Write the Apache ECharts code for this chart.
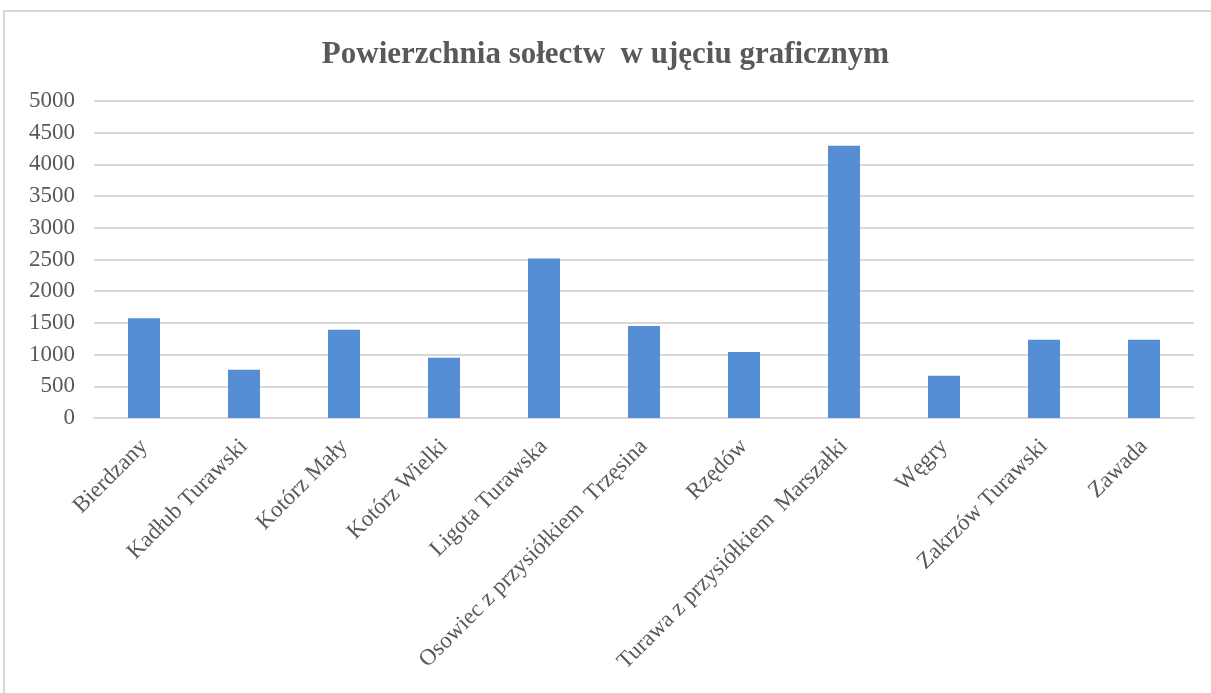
<!DOCTYPE html>
<html>
<head>
<meta charset="utf-8">
<script src="https://cdn.jsdelivr.net/npm/echarts@6/dist/echarts.min.js"></script>
<style>
  html, body { margin: 0; padding: 0; background: #fff; }
  #chart { width: 1211px; height: 693px; }
</style>
</head>
<body>
<div id="chart"></div>
<script>
// dane wykresu
const categories = [
  'Bierdzany', 'Kadłub Turawski', 'Kotórz Mały', 'Kotórz Wielki', 'Ligota Turawska',
  'Osowiec z przysiółkiem  Trzęsina', 'Rzędów', 'Turawa z przysiółkiem  Marszałki',
  'Węgry', 'Zakrzów Turawski', 'Zawada'
];
const areaValues = [1575, 760, 1390, 950, 2515, 1450, 1040, 4295, 665, 1235, 1235];
const yTicks = [0, 500, 1000, 1500, 2000, 2500, 3000, 3500, 4000, 4500, 5000];

const chart = echarts.init(document.getElementById('chart'));
const textColor = '#595959';
const font = 'Liberation Serif';

let option = {
  animation: false,
  title: {
    text: 'Powierzchnia sołectw  w ujęciu graficznym',
    left: 'center',
    top: 34,
    textStyle: {
      fontFamily: font,
      fontSize: 31,
      fontWeight: 'bold',
      color: textColor
    }
  },
  graphic: [{
    // ramka wykresu
    type: 'rect',
    shape: {x: 4, y: 11, width: 1240, height: 720},
    style: {fill: 'none', stroke: '#d9d9d9', lineWidth: 2},
    silent: true
  }],
  grid: {
    left: 94,
    right: 17,
    top: 101,
    bottom: 275,
    containLabel: false
  },
  xAxis: {
    type: 'category',
    data: categories,
    axisTick: {show: false},
    axisLine: {lineStyle: {color: '#d9d9d9', width: 2}},
    axisLabel: {
      interval: 0,
      rotate: 45,
      margin: 25,
      fontFamily: font,
      fontSize: 23,
      color: textColor
    }
  },
  yAxis: {
    type: 'value',
    min: yTicks[0],
    max: yTicks[yTicks.length - 1],
    interval: 500,
    axisLine: {show: false},
    axisTick: {show: false},
    axisLabel: {
      margin: 19,
      fontFamily: font,
      fontSize: 23,
      color: textColor,
      formatter: function (v) {
        return String(v);
      }
    },
    splitLine: {lineStyle: {color: '#d9d9d9', width: 2}}
  },
  series: [{
    type: 'bar',
    data: areaValues,
    barWidth: 32,
    itemStyle: {color: '#558ed5'}
  }]
};

chart.setOption(option);
</script>
</body>
</html>
